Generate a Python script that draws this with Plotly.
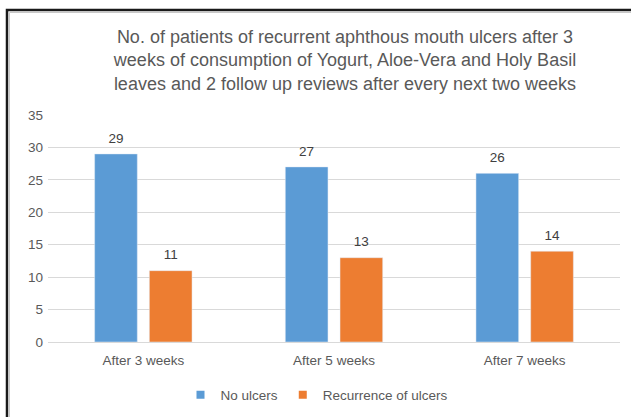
import plotly.graph_objects as go

categories = ["After 3 weeks", "After 5 weeks", "After 7 weeks"]
no_ulcers = [29, 27, 26]
recurrence = [11, 13, 14]
series_names = ["No ulcers", "Recurrence of ulcers"]
colors = ["#5B9BD5", "#ED7D31"]

W, H = 631, 417
L, R, T, B = 48, 11, 115, 75
pw, ph = W - L - R, H - T - B

def px_x(x):
    return (x - L) / pw

def px_y(y):
    return (H - B - y) / ph

font_fam = "Liberation Sans, Arial, sans-serif"
txt_col = "#595959"
fs = 13.5
GAP = 0.426

fig = go.Figure()
for i, (vals, name, col) in enumerate([(no_ulcers, series_names[0], colors[0]),
                                        (recurrence, series_names[1], colors[1])]):
    fig.add_trace(go.Bar(x=categories, y=vals, name=name, marker_color=col,
                         offsetgroup=str(i), showlegend=False, hoverinfo="x+y+name"))
    # data labels
    fig.add_trace(go.Scatter(x=categories, y=vals, mode="markers+text",
                             text=[str(v) for v in vals], textposition="top center",
                             textfont=dict(size=fs, color="#404040"),
                             marker=dict(size=11, opacity=0),
                             offsetgroup=str(i), showlegend=False,
                             hoverinfo="skip", cliponaxis=False))
# legend entries (hidden axes, so they do not join the grouping)
for name, col in zip(series_names, colors):
    fig.add_trace(go.Scatter(x=[None], y=[None], mode="markers", name=name,
                             xaxis="x2", yaxis="y2",
                             marker=dict(symbol="square", size=8, color=col)))

title = ("No. of patients of recurrent aphthous mouth ulcers after 3<br>"
         "weeks of consumption of Yogurt, Aloe-Vera and Holy Basil<br>"
         "leaves and 2 follow up reviews after every next two weeks")

fig.update_layout(
    width=W, height=H,
    margin=dict(l=L, r=R, t=T, b=B, autoexpand=False),
    paper_bgcolor="white", plot_bgcolor="white",
    font=dict(family=font_fam, color=txt_col, size=fs),
    barmode="group", bargap=GAP, bargroupgap=0.22,
    scattermode="group", scattergap=GAP,
    title=dict(text=title, x=px_x(345), xref="paper", xanchor="center",
               y=1 - 43 / H, yref="container", yanchor="middle",
               font=dict(size=18, color=txt_col, family=font_fam)),
    showlegend=True,
    legend=dict(orientation="h", x=px_x(317), xanchor="center",
                y=px_y(395), yanchor="middle", font=dict(size=fs, color=txt_col),
                itemwidth=30, traceorder="normal"),
    xaxis=dict(showgrid=False, showline=True, linecolor="#D9D9D9", linewidth=1,
               ticks="", ticklabelstandoff=6, tickfont=dict(size=fs, color=txt_col)),
    yaxis=dict(range=[0, 35], dtick=5, showgrid=True, gridcolor="#D9D9D9",
               gridwidth=1, zeroline=False, showline=False, ticks="",
               ticklabelstandoff=4, tickfont=dict(size=fs, color=txt_col)),
    xaxis2=dict(visible=False, overlaying="x", range=[0, 1]),
    yaxis2=dict(visible=False, overlaying="y", range=[0, 1]),
    shapes=[
        dict(type="path", xref="paper", yref="paper",
             path=f"M {px_x(7)} {px_y(430)} L {px_x(7)} {px_y(10)} L {px_x(640)} {px_y(10)}",
             line=dict(color="#1a1a1a", width=2.5)),
        dict(type="path", xref="paper", yref="paper",
             path=f"M {px_x(9.5)} {px_y(430)} L {px_x(9.5)} {px_y(12.5)} L {px_x(640)} {px_y(12.5)}",
             line=dict(color="#C8C8C8", width=1)),
    ],
)

fig.write_html("out.html", config={"displayModeBar": False},
               post_script="document.body.style.margin='0';document.body.style.overflow='hidden';")
